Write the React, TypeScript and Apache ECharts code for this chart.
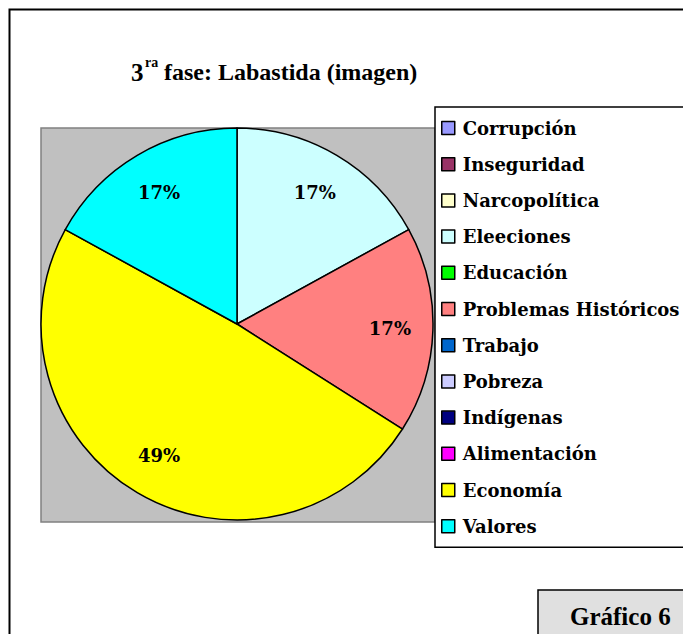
import React, { useEffect, useRef } from "react";
import * as echarts from "echarts";

const categories = [
  "Corrupción",
  "Inseguridad",
  "Narcopolítica",
  "Eleeciones",
  "Educación",
  "Problemas Históricos",
  "Trabajo",
  "Pobreza",
  "Indígenas",
  "Alimentación",
  "Economía",
  "Valores",
];
const values = [0, 0, 0, 17, 0, 17, 0, 0, 0, 0, 49, 17];
const colors = [
  "#9999ff",
  "#993366",
  "#ffffcc",
  "#ccffff",
  "#00ff00",
  "#ff8080",
  "#0066cc",
  "#ccccff",
  "#000080",
  "#ff00ff",
  "#ffff00",
  "#00ffff",
];
const titleMain = "3";
const titleSup = "ra";
const titleRest = "fase: Labastida (imagen)";

export default function App() {
  const ref = useRef<HTMLDivElement>(null);
  useEffect(() => {
    if (!ref.current) return;
    const chart = echarts.init(ref.current, null, { renderer: "svg" });
    const serif = "Liberation Serif";
    const legendFont = "DejaVu Serif";
    chart.setOption({
      animation: false,
      backgroundColor: "#ffffff",
      color: colors,
      graphic: [
        {
          type: "rect",
          z: -10,
          shape: { x: 9.5, y: 9.5, width: 900, height: 900 },
          style: { fill: "none", stroke: "#000", lineWidth: 2 },
        },
        {
          type: "text",
          z: 11,
          x: 131,
          y: 72,
          style: {
            text: titleMain,
            fontFamily: serif,
            fontWeight: "bold",
            fontSize: 25,
            fill: "#000",
            verticalAlign: "middle",
          },
        },
        {
          type: "text",
          z: 11,
          x: 145,
          y: 62,
          style: {
            text: titleSup,
            fontFamily: serif,
            fontWeight: "bold",
            fontSize: 14,
            fill: "#000",
            verticalAlign: "middle",
          },
        },
        {
          type: "text",
          z: 11,
          x: 164,
          y: 72,
          style: {
            text: titleRest,
            fontFamily: serif,
            fontWeight: "bold",
            fontSize: 24,
            fill: "#000",
            verticalAlign: "middle",
          },
        },
        {
          type: "rect",
          z: -5,
          shape: { x: 41, y: 128, width: 394, height: 394 },
          style: { fill: "#c0c0c0", stroke: "#808080", lineWidth: 1.5 },
        },
        {
          type: "rect",
          z: 10,
          shape: { x: 538, y: 590, width: 200, height: 100 },
          style: { fill: "#e0e0e0", stroke: "#000", lineWidth: 1.5 },
        },
        {
          type: "text",
          z: 11,
          x: 570,
          y: 616,
          style: {
            text: "Gráfico 6",
            fontFamily: serif,
            fontWeight: "bold",
            fontSize: 25,
            fill: "#000",
            verticalAlign: "middle",
          },
        },
      ],
      legend: {
        orient: "vertical",
        left: 435,
        top: 107,
        data: categories,
        icon: "rect",
        itemWidth: 13,
        itemHeight: 13,
        itemGap: 18.2,
        padding: [12, 40, 12, 6],
        backgroundColor: "#ffffff",
        borderColor: "#000",
        borderWidth: 1.5,
        itemStyle: { borderColor: "#000", borderWidth: 1.5 },
        textStyle: {
          fontFamily: legendFont,
          fontWeight: "bold",
          fontSize: 18,
          lineHeight: 18,
          color: "#000",
          padding: [0, 0, 0, 3],
        },
        selectedMode: false,
      },
      series: [
        {
          type: "pie",
          center: [237, 324],
          radius: [0, 196],
          startAngle: 90,
          clockwise: true,
          silent: true,
          label: { show: false },
          labelLine: { show: false },
          itemStyle: { borderColor: "#000", borderWidth: 1.5 },
          data: categories.map((name, i) => ({
            name,
            value: values[i],
            itemStyle: { color: colors[i], borderWidth: values[i] > 0 ? 1.5 : 0 },
          })),
        },
        {
          type: "pie",
          center: [237, 324],
          radius: [104, 196],
          startAngle: 90,
          clockwise: true,
          silent: true,
          labelLine: { show: false },
          label: {
            show: true,
            position: "inside",
            formatter: "{c}%",
            fontFamily: legendFont,
            fontWeight: "bold",
            fontSize: 18,
            color: "#000",
          },
          itemStyle: { color: "rgba(0,0,0,0)", borderWidth: 0 },
          data: categories.map((name, i) => ({
            name,
            value: values[i],
            label: { show: values[i] > 0 },
            itemStyle: { color: "rgba(0,0,0,0)", borderWidth: 0 },
          })),
        },
      ],
    });
    return () => chart.dispose();
  }, []);
  return (
    <div
      ref={ref}
      style={{ position: "fixed", left: 0, top: 0, width: 683, height: 634 }}
    />
  );
}
